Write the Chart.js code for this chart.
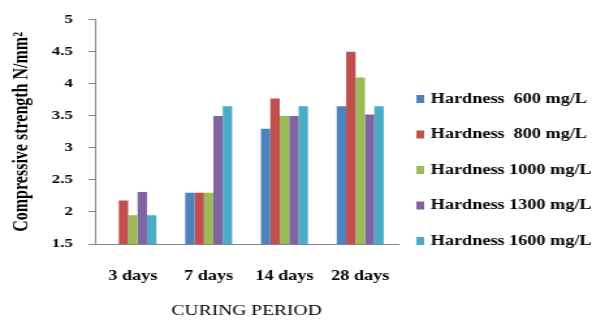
<!DOCTYPE html>
<html>
<head>
<meta charset="utf-8">
<script src="https://cdn.jsdelivr.net/npm/chart.js@4.4.1/dist/chart.umd.min.js"></script>
<style>
  html, body { margin: 0; padding: 0; background: #fff; }
</style>
</head>
<body>
<!-- the reference is stretched sideways, so draw narrow and widen -->
<canvas id="chart" width="465" height="322" style="width:605px;height:322px;display:block"></canvas>
<script>
// Data
const periods = ['3 days', '7 days', '14 days', '28 days'];
const seriesNames = ['Hardness  600 mg/L', 'Hardness  800 mg/L', 'Hardness 1000 mg/L', 'Hardness 1300 mg/L', 'Hardness 1600 mg/L'];
const hard600  = [null, 2.3, 3.3, 3.65];
const hard800  = [2.18, 2.3, 3.77, 4.5];
const hard1000 = [1.95, 2.3, 3.5, 4.1];
const hard1300 = [2.31, 3.5, 3.5, 3.52];
const hard1600 = [1.95, 3.65, 3.65, 3.65];
const yTicks = [1.5, 2, 2.5, 3, 3.5, 4, 4.5, 5];

const colors = ['#4F81BD', '#C0504D', '#9BBB59', '#8064A2', '#4BACC6'];
const serif = "'Liberation Serif', 'Times New Roman', serif";
const axisGrey = '#868686';

const seriesValues = [hard600, hard800, hard1000, hard1300, hard1600];

// Simple legend drawn at the right, like the original
const sideLegend = {
  id: 'sideLegend',
  afterDraw(chart) {
    const ctx = chart.ctx;
    const x0 = chart.chartArea.right;
    ctx.save();
    ctx.font = 'bold 14px ' + serif;
    ctx.textBaseline = 'middle';
    ctx.textAlign = 'left';
    chart.data.datasets.forEach((ds, i) => {
      const y = 99 + i * 35.5;
      ctx.fillStyle = ds.backgroundColor;
      ctx.fillRect(x0 + 14, y - 4, 6, 8);
      ctx.fillStyle = '#000';
      ctx.fillText(ds.label, x0 + 25, y);
    });
    ctx.restore();
  }
};

new Chart(document.getElementById('chart'), {
  type: 'bar',
  data: {
    labels: periods,
    datasets: seriesValues.map((vals, i) => ({
      label: seriesNames[i],
      data: vals,
      backgroundColor: colors[i],
      borderWidth: 0,
      barPercentage: 1,
      categoryPercentage: 0.62
    }))
  },
  options: {
    responsive: false,
    animation: false,
    layout: { padding: { top: 13, right: 159, left: 0, bottom: 0 } },
    plugins: {
      legend: { display: false },
      tooltip: { enabled: false }
    },
    scales: {
      x: {
        grid: { display: true, drawOnChartArea: false, drawTicks: false },
        border: { color: axisGrey, width: 1 },
        ticks: { color: '#000', padding: 24, font: { family: serif, size: 14, weight: 'bold' } },
        title: {
          display: true, text: 'CURING PERIOD', color: '#000',
          font: { family: serif, size: 15 }, padding: { top: 0, bottom: 2 }
        },
        afterFit(scale) { scale.height = 78; }
      },
      y: {
        min: 1.5,
        max: 5,
        afterBuildTicks(scale) { scale.ticks = yTicks.map(v => ({ value: v })); },
        grid: { display: true, drawOnChartArea: false, drawTicks: true, tickLength: 5, color: axisGrey },
        border: { color: axisGrey, width: 1 },
        ticks: {
          color: '#000', padding: 12, font: { family: serif, size: 13, weight: 'bold' },
          callback: v => String(v)
        },
        title: {
          display: true, text: 'Compressive strength N/mm\u00B2', color: '#000',
          font: { family: serif, size: 16, weight: 'bold' }, padding: { top: 7, bottom: 0 }
        },
        afterFit(scale) { scale.width = 73; }
      }
    }
  },
  plugins: [sideLegend]
});
</script>
</body>
</html>
